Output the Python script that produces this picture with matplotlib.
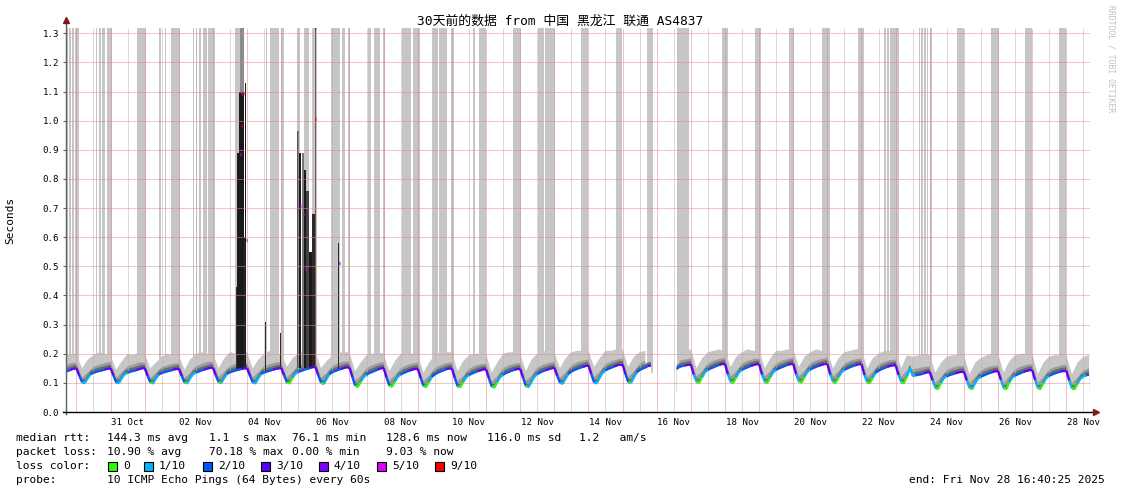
import numpy as np
import matplotlib.pyplot as plt
from matplotlib.collections import LineCollection
from matplotlib.patches import Rectangle

nan = np.nan

# time axis: days since 29 Oct 00:00, graph spans Oct 29 16:40:25 .. Nov 28 16:40:25
t_start = 0.6947
t_end = 30.6947

# median rtt (ms), one row per day Oct 29 .. Nov 28, 2-hourly from 00:00
median_ms = [
    [nan, nan, nan, nan, nan, nan, nan, nan, 138, 141, 145, 149],
    [150, 124, 102, 100, 116, 130, 135, 138, 141, 143, 146, 149],
    [150, 125, 101, 100, 117, 130, 135, 139, 141, 144, 147, 150],
    [150, 124, 101, 99, 116, 129, 134, 137, 140, 142, 145, 148],
    [148, 123, 101, 99, 116, 130, 136, 139, 143, 146, 149, 152],
    [151, 125, 102, 100, 118, 131, 137, 140, 143, 146, 148, 150],
    [150, 124, 101, 99, 117, 131, 136, 139, 142, 145, 148, 150],
    [151, 125, 101, 99, 118, 132, 138, 141, 145, 148, 151, 154],
    [154, 126, 100, 97, 114, 130, 137, 141, 145, 148, 151, 154],
    [152, 120, 90, 87, 104, 120, 128, 134, 138, 142, 146, 150],
    [150, 118, 90, 88, 105, 121, 129, 134, 138, 142, 145, 148],
    [148, 117, 89, 87, 104, 121, 129, 135, 139, 143, 147, 150],
    [149, 116, 88, 86, 103, 119, 127, 132, 136, 140, 143, 146],
    [146, 115, 87, 85, 103, 120, 128, 134, 138, 142, 145, 148],
    [148, 117, 89, 86, 104, 121, 130, 136, 140, 144, 147, 150],
    [152, 124, 100, 98, 115, 131, 139, 144, 148, 152, 155, 158],
    [160, 129, 101, 99, 118, 135, 143, 148, 152, 156, 160, 163],
    [163, 130, 102, 100, 119, 136, 144, 149, 153, 158, 160, nan],
    [nan, nan, nan, nan, nan, nan, nan, 148, 155, 158, 160, 162],
    [163, 128, 103, 101, 120, 137, 145, 150, 154, 158, 162, 165],
    [165, 129, 103, 101, 120, 137, 145, 150, 154, 158, 161, 164],
    [164, 128, 103, 101, 120, 137, 145, 150, 154, 158, 162, 165],
    [165, 129, 104, 102, 121, 138, 146, 151, 155, 159, 162, 165],
    [165, 128, 103, 101, 120, 137, 145, 150, 154, 158, 161, 164],
    [164, 127, 102, 100, 118, 135, 142, 147, 151, 155, 158, 160],
    [160, 127, 102, 100, 122, 150, 124, 126, 128, 130, 133, 136],
    [136, 108, 82, 80, 100, 117, 123, 127, 130, 133, 136, 138],
    [138, 108, 82, 80, 100, 115, 121, 126, 130, 134, 137, 140],
    [140, 110, 82, 80, 102, 118, 125, 130, 134, 138, 141, 144],
    [144, 110, 82, 80, 100, 117, 124, 129, 133, 136, 139, 141],
    [141, 108, 81, 79, 98, 115, 122, 126, 129, nan, nan, nan],
]

# packet loss (x/10) for each median sample
loss_tenths = [
    [0, 0, 0, 0, 0, 0, 0, 0, 2, 2, 3, 3],
    [3, 2, 1, 1, 1, 2, 2, 2, 2, 2, 3, 3],
    [3, 2, 1, 1, 1, 1, 2, 2, 2, 3, 3, 3],
    [3, 2, 0, 1, 1, 2, 2, 2, 2, 2, 3, 3],
    [3, 2, 0, 1, 1, 1, 2, 2, 2, 3, 3, 3],
    [3, 2, 0, 1, 1, 2, 2, 2, 2, 2, 3, 3],
    [3, 2, 1, 1, 1, 2, 2, 2, 2, 3, 3, 3],
    [3, 2, 0, 0, 1, 1, 2, 2, 2, 2, 3, 3],
    [3, 2, 0, 1, 1, 2, 2, 2, 2, 3, 3, 3],
    [3, 2, 0, 0, 1, 1, 2, 2, 2, 2, 3, 3],
    [3, 2, 0, 0, 1, 1, 2, 2, 2, 3, 3, 3],
    [3, 2, 0, 0, 1, 2, 2, 2, 2, 2, 3, 3],
    [3, 2, 0, 0, 1, 1, 2, 2, 2, 3, 3, 3],
    [3, 2, 0, 0, 1, 1, 2, 2, 2, 2, 3, 3],
    [3, 2, 0, 1, 1, 1, 2, 2, 2, 3, 3, 3],
    [3, 2, 1, 1, 1, 2, 2, 2, 2, 2, 3, 3],
    [3, 2, 1, 1, 1, 1, 2, 2, 2, 3, 3, 3],
    [3, 2, 0, 1, 1, 2, 2, 2, 2, 3, 3, 3],
    [0, 0, 0, 0, 0, 0, 0, 2, 2, 2, 3, 3],
    [3, 1, 0, 0, 1, 1, 2, 2, 2, 2, 3, 3],
    [3, 1, 0, 0, 1, 1, 2, 2, 2, 3, 3, 3],
    [3, 1, 0, 0, 1, 1, 2, 2, 2, 2, 3, 3],
    [3, 1, 0, 0, 1, 1, 2, 2, 2, 3, 3, 3],
    [3, 1, 0, 0, 1, 1, 2, 2, 2, 2, 3, 3],
    [3, 1, 0, 0, 1, 2, 2, 2, 2, 3, 3, 3],
    [3, 1, 0, 0, 1, 1, 1, 2, 2, 2, 3, 3],
    [3, 1, 0, 0, 1, 1, 2, 2, 2, 3, 3, 3],
    [3, 1, 0, 1, 1, 1, 2, 2, 2, 2, 3, 3],
    [3, 1, 0, 0, 1, 1, 2, 2, 2, 3, 3, 3],
    [3, 1, 0, 0, 1, 1, 2, 2, 2, 2, 3, 3],
    [3, 1, 0, 0, 1, 1, 1, 2, 2, 0, 0, 0],
]

# smoke envelope (ms), 4-hourly from 00:00: upper edge of the mid and light smoke
smoke_mid_ms = [
    [nan, nan, nan, nan, 160, 168],
    [170, 118, 135, 155, 162, 168],
    [172, 118, 136, 156, 163, 170],
    [170, 117, 134, 154, 160, 166],
    [168, 117, 135, 157, 165, 172],
    [172, 120, 138, 158, 165, 170],
    [170, 118, 137, 157, 164, 170],
    [172, 118, 138, 159, 167, 174],
    [176, 118, 134, 158, 167, 173],
    [174, 108, 124, 150, 160, 168],
    [172, 108, 125, 150, 160, 166],
    [170, 107, 124, 150, 161, 168],
    [170, 106, 123, 148, 158, 164],
    [166, 105, 123, 150, 160, 166],
    [168, 107, 124, 152, 162, 168],
    [172, 118, 135, 160, 170, 176],
    [180, 120, 138, 164, 174, 180],
    [184, 120, 139, 166, 176, nan],
    [nan, nan, nan, nan, 176, 180],
    [184, 122, 140, 166, 176, 182],
    [186, 122, 140, 166, 176, 182],
    [184, 122, 140, 166, 176, 182],
    [186, 123, 141, 167, 177, 182],
    [186, 122, 140, 166, 176, 181],
    [184, 120, 138, 163, 172, 178],
    [180, 120, 142, 146, 150, 155],
    [156, 100, 120, 144, 152, 158],
    [158, 100, 120, 142, 152, 158],
    [160, 100, 122, 146, 156, 162],
    [164, 100, 120, 145, 154, 160],
    [162, 99, 118, 142, 150, nan],
]
smoke_top_ms = [
    [nan, nan, nan, nan, 190, 200],
    [200, 150, 180, 195, 205, 200],
    [195, 145, 175, 200, 195, 205],
    [200, 150, 170, 190, 200, 195],
    [195, 145, 180, 200, 205, 200],
    [200, 150, 185, 205, 200, 205],
    [205, 150, 180, 200, 210, 200],
    [200, 155, 185, 200, 205, 210],
    [210, 150, 175, 195, 205, 205],
    [205, 140, 170, 195, 200, 205],
    [200, 140, 175, 200, 205, 200],
    [200, 135, 170, 195, 205, 205],
    [205, 140, 175, 195, 200, 200],
    [200, 135, 170, 200, 205, 205],
    [200, 140, 180, 200, 210, 205],
    [205, 150, 185, 205, 210, 210],
    [210, 155, 185, 210, 210, 215],
    [215, 155, 190, 205, 210, nan],
    [nan, nan, nan, nan, 210, 210],
    [215, 150, 185, 205, 210, 215],
    [210, 155, 190, 205, 215, 210],
    [215, 150, 185, 210, 210, 215],
    [215, 155, 190, 205, 215, 210],
    [210, 150, 185, 205, 210, 215],
    [215, 150, 185, 200, 210, 210],
    [210, 150, 195, 190, 195, 200],
    [195, 135, 170, 190, 195, 195],
    [195, 130, 170, 185, 195, 200],
    [200, 135, 175, 195, 200, 200],
    [200, 130, 170, 190, 195, 195],
    [195, 130, 170, 190, 195, nan],
]

# periods where the slowest pings went off the chart (days since Oct 29 00:00)
spike_start = [0.724, 0.783, 0.870, 0.958, 1.573, 1.661, 1.749, 1.895, 2.774, 3.418,
               3.594, 3.769, 4.414, 4.501, 4.589, 4.706, 4.853, 5.643, 6.550, 6.668,
               6.990, 7.459, 7.664, 7.898, 8.454, 8.776, 8.952, 9.537, 9.714, 9.977,
               10.534, 10.856, 11.412, 11.617, 11.968, 12.612, 12.788, 13.784, 14.516,
               14.721, 15.775, 16.799, 17.707, 18.586, 19.924, 20.890, 21.886, 22.852,
               23.906, 24.667, 24.755, 24.843, 25.692, 25.750, 25.838, 25.926, 26.014,
               26.805, 27.781, 28.776, 29.801]
spike_end = [0.753, 0.841, 0.929, 1.075, 1.603, 1.720, 1.837, 2.042, 3.037, 3.477,
             3.623, 4.033, 4.443, 4.531, 4.648, 4.823, 5.058, 5.790, 6.580, 6.932,
             7.078, 7.547, 7.810, 8.044, 8.718, 8.864, 9.010, 9.626, 9.889, 10.036,
             10.797, 11.061, 11.588, 11.851, 12.056, 12.671, 12.993, 14.018, 14.692,
             15.014, 15.980, 16.975, 17.883, 18.937, 20.100, 21.066, 22.032, 23.087,
             24.082, 24.726, 24.813, 25.106, 25.721, 25.809, 25.897, 25.955, 26.072,
             27.010, 28.015, 28.981, 29.977]

# dark smoke towers during the Nov 3-6 disturbance: start, end (days), low, high (s)
tower_t0 = [5.672, 5.702, 5.760, 5.907, 5.951, 6.521, 6.961, 7.459, 7.518, 7.596, 7.664,
            7.722, 7.810, 7.898, 7.986, 8.659, 5.790]
tower_t1 = [5.702, 5.760, 5.907, 5.951, 5.980, 6.565, 7.005, 7.518, 7.576, 7.664, 7.722,
            7.810, 7.898, 7.986, 8.030, 8.703, 5.907]
tower_lo = [0.13, 0.12, 0.12, 0.12, 0.12, 0.13, 0.13, 0.15, 0.15, 0.15, 0.15,
            0.15, 0.15, 0.15, 0.15, 0.13, 1.10]
tower_hi = [0.43, 0.89, 1.10, 0.60, 1.13, 0.31, 0.27, 0.965, 0.89, 0.89, 0.83,
            0.76, 0.55, 0.68, 1.318, 0.58, 1.318]
tower_col = ['#303030', '#1a1a1a', '#1a1a1a', '#2a2a2a', '#1a1a1a', '#2a2a2a', '#2a2a2a',
             '#555555', '#1a1a1a', '#777777', '#1a1a1a', '#444444', '#1a1a1a', '#2a2a2a',
             '#1a1a1a', '#2a2a2a', '#8c8c8c']

# isolated median readings far off the baseline: time (days), rtt (s), loss
jump_t = [5.790, 5.834, 5.878, 5.819, 5.965, 7.547, 7.624, 7.683, 8.001, 8.688]
jump_v = [0.886, 1.090, 1.095, 0.980, 0.590, 0.708, 0.680, 0.490, 1.005, 0.510]
jump_loss = [5, 5, 9, 9, 5, 5, 5, 5, 9, 4]

loss_colors = {0: '#26ff00', 1: '#00b8ff', 2: '#0059ff', 3: '#5e00ff',
               4: '#7e00ff', 5: '#dd00ff', 9: '#ff0000'}
legend_loss = [0, 1, 2, 3, 4, 5, 9]
legend_loss_labels = ['0', '1/10', '2/10', '3/10', '4/10', '5/10', '9/10']

x_label_pos = [2.5 + 2 * i for i in range(15)]
x_labels = ['31 Oct', '02 Nov', '04 Nov', '06 Nov', '08 Nov', '10 Nov', '12 Nov', '14 Nov',
            '16 Nov', '18 Nov', '20 Nov', '22 Nov', '24 Nov', '26 Nov', '28 Nov']

W, H = 1121, 494
MONO = 'DejaVu Sans Mono'
plt.rcParams['font.family'] = [MONO, 'Noto Sans CJK SC']

fig = plt.figure(figsize=(W / 100, H / 100), dpi=100)
fig.patch.set_facecolor('white')
ax = fig.add_axes([66 / W, (H - 412) / H, (1090 - 66) / W, 384 / H])
ymax = 1.318
ax.set_xlim(t_start, t_end)
ax.set_ylim(0, ymax)

# flatten per-day rows
n_days = len(median_ms)
t2 = np.array([d + h / 24 for d in range(n_days) for h in range(0, 24, 2)])
med = np.array(median_ms, dtype=float).ravel() / 1000
loss = np.array(loss_tenths).ravel()
t4 = np.array([d + h / 24 for d in range(n_days) for h in range(0, 24, 4)])
s_mid = np.array(smoke_mid_ms, dtype=float).ravel() / 1000
s_top = np.array(smoke_top_ms, dtype=float).ravel() / 1000

LIGHT, MID, DARK = '#c6c6c6', '#9c9c9c', '#6c6c6c'

# off-scale smoke bars
for a, b in zip(spike_start, spike_end):
    ax.fill_between([a, b], 0.135, ymax, color=LIGHT, lw=0, zorder=1)

ax.fill_between(t4, 0.07, s_top, color=LIGHT, lw=0, zorder=1.1)
ax.fill_between(t4, 0.07, s_mid, color=MID, lw=0, zorder=1.2)
ax.fill_between(t2, 0.07, med + 0.012, color=DARK, lw=0, zorder=1.3)

for a, b, lo, hi, c in zip(tower_t0, tower_t1, tower_lo, tower_hi, tower_col):
    ax.fill_between([a, b], lo, hi, color=c, lw=0, zorder=1.4)

# clear the area below the median
ax.fill_between(t2, 0, med - 0.004, color='white', lw=0, zorder=1.5)

# dotted grid
red_grid = '#e48888'
for v in np.arange(0.1, 1.31, 0.1):
    ax.axhline(v, color=red_grid, lw=0.72, ls=(0, (1, 1)), zorder=2)
for d in range(1, 31):
    ax.axvline(d, color=red_grid, lw=0.72, ls=(0, (1, 1)), zorder=2)
for d in range(0, 31):
    ax.axvline(d + 0.5, color='#b4b4b4', lw=0.72, ls=(0, (1, 1)), zorder=2)

# median line coloured by loss
segs, cols = [], []
for i in range(len(t2) - 1):
    if np.isnan(med[i]) or np.isnan(med[i + 1]):
        continue
    segs.append([(t2[i], med[i]), (t2[i + 1], med[i + 1])])
    cols.append(loss_colors[int(loss[i])])
ax.add_collection(LineCollection(segs, colors=cols, linewidths=1.6, zorder=3,
                                 capstyle='butt'))
for x, v, l in zip(jump_t, jump_v, jump_loss):
    ax.plot([x, x + 0.03], [v, v], color=loss_colors[l], lw=2.5, zorder=3.1,
            solid_capstyle='butt')

# axes styling
for s in ax.spines.values():
    s.set_visible(False)
ax.plot([0, 0], [-0.004, 1.02], transform=ax.transAxes, color='#606060', lw=1,
        clip_on=False, zorder=4)
ax.plot([-0.003, 1.004], [0, 0], transform=ax.transAxes, color='black', lw=1,
        clip_on=False, zorder=4)
ax.plot([1.0055], [0], transform=ax.transAxes, marker='>', ms=4, color='#7a1c1c',
        clip_on=False, zorder=5)
ax.plot([0], [1.022], transform=ax.transAxes, marker='^', ms=4, color='#7a1c1c',
        clip_on=False, zorder=5)

ax.set_yticks(np.round(np.arange(0, 1.31, 0.1), 1))
ax.set_yticklabels(['%.1f' % v for v in np.arange(0, 1.31, 0.1)])
ax.set_xticks(x_label_pos)
ax.set_xticklabels(x_labels)
ax.tick_params(axis='y', length=2, width=0.8, pad=3, labelsize=6.6, color='#606060')
ax.tick_params(axis='x', length=0, pad=4, labelsize=6.6)

fig.text(10 / W, 1 - 220 / H, 'Seconds', rotation=90, ha='center', va='center',
         fontsize=8, family=MONO)
fig.text(560 / W, 1 - 21 / H, '30天前的数据 from 中国 黑龙江 联通 AS4837',
         ha='center', va='center', fontsize=9.3, family=[MONO, 'Noto Sans CJK SC'])
fig.text(1111 / W, 1 - 59 / H, 'RRDTOOL / TOBI OETIKER', rotation=270, ha='center',
         va='center', fontsize=5.8, color='#c0c0c0', family=MONO)

# legend
fs = 8.1
def row(y, pieces):
    for x, s in pieces:
        fig.text(x / W, 1 - y / H, s, ha='left', va='center', fontsize=fs, family=MONO)

row(438, [(16, 'median rtt:'), (107, '144.3 ms avg'), (209, '1.1  s max'),
          (292, '76.1 ms min'), (386, '128.6 ms now'), (487, '116.0 ms sd'),
          (579, '1.2   am/s')])
row(452, [(16, 'packet loss:'), (107, '10.90 % avg'), (209, '70.18 % max'),
          (292, '0.00 % min'), (386, '9.03 % now')])
row(466, [(16, 'loss color:')])
sq_x = [108, 144, 203, 261, 319, 377, 435]
for x, l, lab in zip(sq_x, legend_loss, legend_loss_labels):
    fig.patches.append(Rectangle((x / W, 1 - 471 / H), 9 / W, 9 / H, transform=fig.transFigure,
                                 facecolor=loss_colors[l], edgecolor='black', lw=0.8))
    fig.text((x + 15) / W, 1 - 466 / H, lab, ha='left', va='center', fontsize=fs, family=MONO)
row(480, [(16, 'probe:'), (107, '10 ICMP Echo Pings (64 Bytes) every 60s')])
fig.text(1105 / W, 1 - 480 / H, 'end: Fri Nov 28 16:40:25 2025', ha='right', va='center',
         fontsize=fs, family=MONO)

fig.savefig('out.png', dpi=100, facecolor='white')
